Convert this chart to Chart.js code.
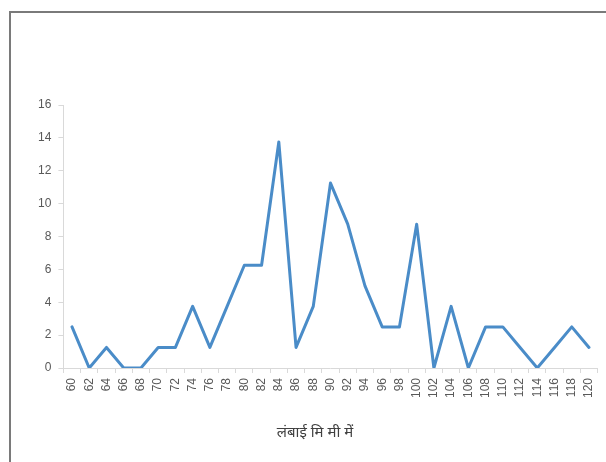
<!DOCTYPE html>
<html>
<head>
<meta charset="utf-8">
<script src="https://cdn.jsdelivr.net/npm/chart.js@4/dist/chart.umd.min.js"></script>
<style>
  html, body { margin: 0; padding: 0; background: #ffffff; overflow: hidden; }
  #wrap { position: relative; width: 606px; height: 462px; }
  #frame { position: absolute; left: 9px; top: 11px; width: 700px; height: 600px;
           border-left: 2px solid #7a7a7a; border-top: 2px solid #7a7a7a; box-sizing: border-box; }
  canvas { position: absolute; left: 0; top: 0; }
</style>
</head>
<body>
<div id="wrap">
  <div id="frame"></div>
  <canvas id="c" width="606" height="462"></canvas>
</div>
<script>
const categories = ['60','62','64','66','68','70','72','74','76','78','80','82','84','86','88','90','92','94','96','98','100','102','104','106','108','110','112','114','116','118','120'];
const values = [2.5, 0, 1.25, 0, 0, 1.25, 1.25, 3.75, 1.25, 3.75, 6.25, 6.25, 13.75, 1.25, 3.75, 11.25, 8.75, 5, 2.5, 2.5, 8.75, 0, 3.75, 0, 2.5, 2.5, 1.25, 0, 1.25, 2.5, 1.25];
const yTicks = [0, 2, 4, 6, 8, 10, 12, 14, 16];
const xTitle = 'लंबाई मि मी में';

const tickFont = { family: "'Liberation Sans', Arial, sans-serif", size: 12 };

const titlePlugin = {
  id: 'xTitle',
  afterDraw(chart) {
    const ctx = chart.ctx;
    ctx.save();
    ctx.font = "15px 'Noto Sans', 'Noto Sans Devanagari', sans-serif";
    ctx.fillStyle = '#404040';
    ctx.textAlign = 'center';
    ctx.textBaseline = 'middle';
    ctx.fillText(xTitle, 315, 433);
    ctx.restore();
  }
};

new Chart(document.getElementById('c'), {
  type: 'line',
  data: {
    labels: categories,
    datasets: [{
      data: values,
      borderColor: '#4a8cc8',
      borderWidth: 3,
      borderJoinStyle: 'round',
      borderCapStyle: 'round',
      pointRadius: 0,
      tension: 0,
      fill: false
    }]
  },
  options: {
    responsive: false,
    animation: false,
    devicePixelRatio: 1,
    layout: { padding: { top: 105, right: 8.4, left: 0, bottom: 0 } },
    plugins: { legend: { display: false }, tooltip: { enabled: false } },
    scales: {
      x: {
        type: 'category',
        offset: true,
        grid: { offset: true, drawOnChartArea: false, tickLength: 5, color: '#d9d9d9' },
        border: { color: '#d9d9d9', width: 1 },
        ticks: { minRotation: 90, maxRotation: 90, autoSkip: false, padding: 5, color: '#595959', font: tickFont },
        afterFit(s) { s.height = 94; s.paddingLeft = 0; s.paddingRight = 0; }
      },
      y: {
        min: 0, max: 16,
        afterBuildTicks(s) { s.ticks = yTicks.map(v => ({ value: v })); },
        grid: { drawOnChartArea: false, tickLength: 5, color: '#d9d9d9' },
        border: { color: '#d9d9d9', width: 1 },
        ticks: { padding: 7, color: '#595959', font: tickFont },
        afterFit(s) { s.width = 63.4; s.paddingTop = 0; s.paddingBottom = 0; }
      }
    }
  },
  plugins: [titlePlugin]
});
</script>
</body>
</html>
